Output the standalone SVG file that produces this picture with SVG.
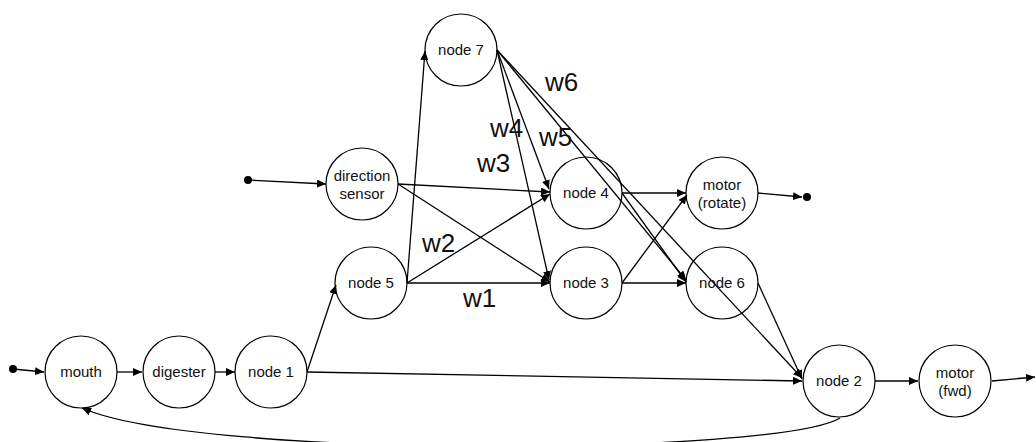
<svg xmlns="http://www.w3.org/2000/svg" width="1036" height="442" viewBox="0 0 1036 442">
<defs>
<marker id="arr" markerUnits="userSpaceOnUse" markerWidth="10" markerHeight="9" refX="9" refY="4" orient="auto">
<path d="M0,0 L9,4 L0,8 z" fill="#000"/>
</marker>
<style>
.n circle{fill:none;stroke:#000;stroke-width:1.2}
.n text{font-family:"Liberation Sans",Arial,sans-serif;font-size:15px;fill:#111;text-anchor:middle}
.c line,.c path{stroke:#000;stroke-width:1.3;fill:none;marker-end:url(#arr)}
.dot{fill:#000}
.w{font-family:"Liberation Sans",Arial,sans-serif;font-size:26px;fill:#111}
</style>
</defs>
<rect width="1036" height="442" fill="#fff"/>
<g class="c" id="connectors">
<line x1="13" y1="369" x2="44" y2="372"/>
<line x1="117" y1="372" x2="142" y2="372"/>
<line x1="215" y1="372" x2="235" y2="372"/>
<line x1="307" y1="372" x2="336" y2="285"/>
<line x1="307" y1="372" x2="802" y2="381"/>
<line x1="407" y1="283" x2="425" y2="51"/>
<line x1="407" y1="283" x2="550" y2="194"/>
<line x1="407" y1="283" x2="550" y2="283"/>
<line x1="248" y1="180" x2="326" y2="184"/>
<line x1="398" y1="184" x2="550" y2="192"/>
<line x1="398" y1="184" x2="550" y2="282"/>
<line x1="497" y1="50" x2="549" y2="189"/>
<line x1="497" y1="50" x2="549" y2="280"/>
<line x1="497" y1="50" x2="686" y2="280"/>
<line x1="497" y1="50" x2="802" y2="378"/>
<line x1="622" y1="193" x2="686" y2="193"/>
<line x1="622" y1="193" x2="686" y2="282"/>
<line x1="622" y1="283" x2="687" y2="195"/>
<line x1="622" y1="283" x2="686" y2="283"/>
<line x1="758" y1="283" x2="802" y2="379"/>
<line x1="875" y1="381" x2="918" y2="381"/>
<line x1="992" y1="381" x2="1035" y2="377"/>
<line x1="758" y1="193" x2="802" y2="197"/>
<path d="M840,418 C780,455 200,460 82,408"/>
</g>
<circle class="dot" cx="13" cy="369" r="4"/>
<circle class="dot" cx="248" cy="180" r="4"/>
<circle class="dot" cx="807" cy="197" r="4"/>
<g id="mouth" class="n"><circle cx="81" cy="372" r="36"/><text x="81" y="377">mouth</text></g>
<g id="digester" class="n"><circle cx="179" cy="372" r="36"/><text x="179" y="377">digester</text></g>
<g id="node1" class="n"><circle cx="271" cy="372" r="36"/><text x="271" y="377">node 1</text></g>
<g id="node5" class="n"><circle cx="371" cy="283" r="36"/><text x="371" y="288">node 5</text></g>
<g id="direction-sensor" class="n"><circle cx="362" cy="184" r="36"/><text x="362" y="181">direction</text><text x="362" y="199">sensor</text></g>
<g id="node7" class="n"><circle cx="461" cy="50" r="36"/><text x="461" y="55">node 7</text></g>
<g id="node4" class="n"><circle cx="586" cy="193" r="36"/><text x="586" y="198">node 4</text></g>
<g id="node3" class="n"><circle cx="586" cy="283" r="36"/><text x="586" y="288">node 3</text></g>
<g id="motor-rotate" class="n"><circle cx="722" cy="193" r="36"/><text x="722" y="190">motor</text><text x="722" y="208">(rotate)</text></g>
<g id="node6" class="n"><circle cx="722" cy="283" r="36"/><text x="722" y="288">node 6</text></g>
<g id="node2" class="n"><circle cx="839" cy="381" r="36"/><text x="839" y="386">node 2</text></g>
<g id="motor-fwd" class="n"><circle cx="955" cy="381" r="36"/><text x="955" y="378">motor</text><text x="955" y="396">(fwd)</text></g>
<g id="weights">
<text class="w" x="463" y="307">w1</text>
<text class="w" x="422" y="252">w2</text>
<text class="w" x="477" y="172">w3</text>
<text class="w" x="490" y="137">w4</text>
<text class="w" x="539" y="146">w5</text>
<text class="w" x="545" y="91">w6</text>
</g>
</svg>
